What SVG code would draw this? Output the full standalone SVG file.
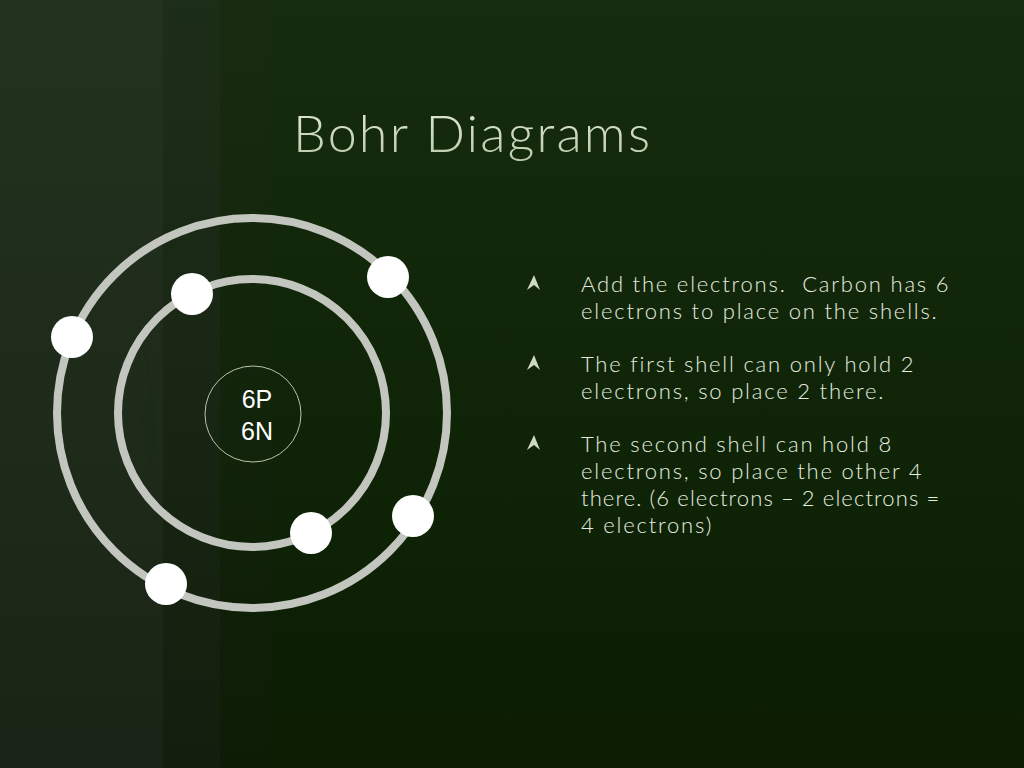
<svg xmlns="http://www.w3.org/2000/svg" width="1024" height="768" viewBox="0 0 1024 768">
<defs>
<linearGradient id="bg" x1="0" y1="0" x2="0" y2="1">
<stop offset="0" stop-color="#162c0e"/>
<stop offset="0.6" stop-color="#0f2406"/>
<stop offset="1" stop-color="#0b1c03"/>
</linearGradient>
<linearGradient id="band1" x1="0" y1="0" x2="0" y2="1">
<stop offset="0" stop-color="#23321f"/>
<stop offset="1" stop-color="#1a2416"/>
</linearGradient>
<linearGradient id="band2" x1="0" y1="0" x2="0" y2="1">
<stop offset="0" stop-color="#1d2e18"/>
<stop offset="1" stop-color="#141e0e"/>
</linearGradient>
<linearGradient id="band3" x1="0" y1="0" x2="0" y2="1">
<stop offset="0" stop-color="#182c12"/>
<stop offset="1" stop-color="#0f1c08"/>
</linearGradient>
<linearGradient id="ttl" x1="0" y1="0" x2="0" y2="1">
<stop offset="0" stop-color="#e4ecd8"/>
<stop offset="1" stop-color="#b8c8a8"/>
</linearGradient>
<path id="bul" d="M1,-9 L7,6 L1,1 L-6,6 Z"/>
</defs>
<style>
.shell{fill:none;stroke:#c2c6bf;stroke-width:8}
.e{fill:#ffffff}
.body{font-family:"Lato","Liberation Sans",sans-serif;font-weight:300;font-size:22px;letter-spacing:1.8px;fill:#e6ece0}
.nuc{font-family:"Liberation Sans",Arial,sans-serif;font-size:25px;fill:#ffffff;text-anchor:middle}
.b{fill:#cfd8c4}
</style>
<rect x="0" y="0" width="1024" height="768" fill="url(#bg)"/>
<rect x="0" y="0" width="163" height="768" fill="url(#band1)"/>
<rect x="163" y="0" width="57" height="768" fill="url(#band2)"/>
<rect x="220" y="0" width="50" height="768" fill="url(#band3)" opacity="0.6"/>
<path d="M140,340 Q160,380 140,420 L150,470 Q160,420 150,380 Z" fill="#1a2a16" opacity="0.5"/>
<text x="293" y="152" font-family="Lato,'Liberation Sans',sans-serif" font-weight="300" font-size="52" fill="url(#ttl)" textLength="357">Bohr Diagrams</text>
<g id="atom">
<g id="shell-outer"><circle class="shell" cx="252" cy="413" r="195"/></g>
<g id="shell-inner"><circle class="shell" cx="252" cy="413" r="134"/></g>
<g id="nucleus">
<circle cx="253" cy="414" r="48" fill="none" stroke="#b8c4a8" stroke-width="1"/>
<text class="nuc" x="257" y="408">6P</text>
<text class="nuc" x="257" y="440">6N</text>
</g>
<g id="electrons">
<circle class="e" cx="192" cy="294" r="21"/>
<circle class="e" cx="311" cy="533" r="21"/>
<circle class="e" cx="72" cy="337" r="21"/>
<circle class="e" cx="388" cy="277" r="21"/>
<circle class="e" cx="413" cy="516" r="21"/>
<circle class="e" cx="166" cy="584" r="21"/>
</g>
</g>
<g id="bullets">
<use href="#bul" class="b" x="533" y="284"/>
<use href="#bul" class="b" x="533" y="364"/>
<use href="#bul" class="b" x="533" y="444"/>
</g>
<g id="text">
<text class="body" x="581" y="292">Add the electrons.&#160; Carbon has 6</text>
<text class="body" x="581" y="319">electrons to place on the shells.</text>
<text class="body" x="581" y="372">The first shell can only hold 2</text>
<text class="body" x="581" y="399">electrons, so place 2 there.</text>
<text class="body" x="581" y="452">The second shell can hold 8</text>
<text class="body" x="581" y="479">electrons, so place the other 4</text>
<text class="body" x="581" y="506" textLength="360">there. (6 electrons – 2 electrons =</text>
<text class="body" x="581" y="533">4 electrons)</text>
</g>
</svg>
